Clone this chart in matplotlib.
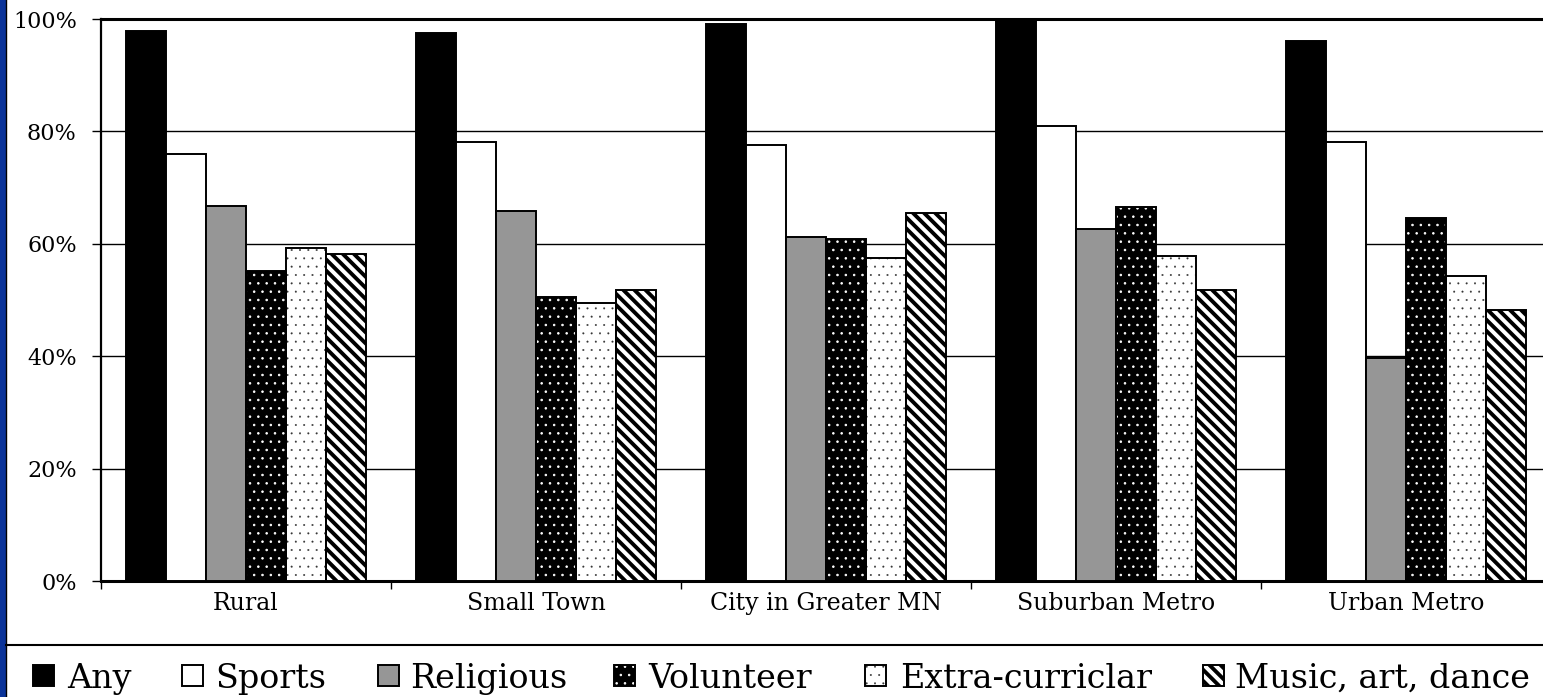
import matplotlib
matplotlib.use("Agg")
import matplotlib.pyplot as plt
import numpy as np
from matplotlib.patches import Rectangle
from matplotlib.lines import Line2D

categories = ["Rural", "Small Town", "City in Greater MN", "Suburban Metro", "Urban Metro"]
series_names = ["Any", "Sports", "Religious", "Volunteer", "Extra-curriclar", "Music, art, dance"]
any_vals = [97.8, 97.5, 99.1, 99.6, 96.1]
sports_vals = [75.9, 78.2, 77.5, 80.9, 78.2]
religious_vals = [66.8, 65.8, 61.2, 62.7, 39.6]
volunteer_vals = [55.2, 50.6, 60.8, 66.5, 64.6]
extra_vals = [59.3, 49.4, 57.4, 57.8, 54.3]
music_vals = [58.2, 51.7, 65.4, 51.7, 48.3]
y_ticks = [0, 20, 40, 60, 80, 100]
y_tick_labels = ["0%", "20%", "40%", "60%", "80%", "100%"]

series = [any_vals, sports_vals, religious_vals, volunteer_vals, extra_vals, music_vals]
# (face, hatch, hatch colour, hatch linewidth)
styles = [
    ("black", None, "black", 1.0),
    ("white", None, "black", 1.0),
    ("#969696", None, "black", 1.0),
    ("black", "..", "white", 0.6),
    ("white", "..", "#333333", 0.2),
    ("white", "\\\\\\", "black", 2.8),
]

plt.rcParams["font.family"] = ["DejaVu Serif"]
W, H = 1543, 697
fig = plt.figure(figsize=(W / 100, H / 100), dpi=100)
fig.patch.set_facecolor("white")

ax = fig.add_axes([101 / W, (H - 581) / H, (1551 - 101) / W, (581 - 19) / H])
ax.set_xlim(-0.5, 4.5)
ax.set_ylim(0, 100)

x = np.arange(len(categories))
bw = 40 / 290
for j, (vals, (fc, hatch, hc, hlw)) in enumerate(zip(series, styles)):
    pos = x + (j - 3) * bw
    with plt.rc_context({"hatch.linewidth": hlw}):
        if hatch:
            ax.bar(pos, vals, width=bw, align="edge", color=fc, edgecolor=hc,
                   hatch=hatch, linewidth=0, zorder=3)
        ax.bar(pos, vals, width=bw, align="edge",
               facecolor=(fc if not hatch else "none"), edgecolor="black",
               linewidth=1.4, zorder=4, label=series_names[j])

# grid
for yv in y_ticks[1:-1]:
    ax.axhline(yv, color="black", linewidth=1.0, zorder=1)

ax.set_yticks(y_ticks)
ax.set_yticklabels(y_tick_labels, fontsize=16)
ax.tick_params(axis="y", direction="out", length=6.5, width=1, pad=11, colors="black")

ax.set_xticks(x)
ax.set_xticklabels(categories, fontsize=17)
ax.tick_params(axis="x", which="major", length=0, pad=8)
ax.set_xticks(np.arange(-0.5, 5.0, 1.0), minor=True)
ax.tick_params(axis="x", which="minor", direction="out", length=6, width=1)

for s in ["left", "top", "bottom", "right"]:
    ax.spines[s].set_color("black")
    ax.spines[s].set_linewidth(1.6)
ax.spines["top"].set_linewidth(2.2)
ax.spines["bottom"].set_linewidth(2.2)

# left blue strip and frame lines
fig.add_artist(Rectangle((0, 0), 6 / W, 1, transform=fig.transFigure,
                         facecolor="#0a3399", edgecolor="none", zorder=5))
fig.add_artist(Line2D([6.5 / W, 6.5 / W], [0, 1], transform=fig.transFigure,
                      color="black", linewidth=1.0, zorder=6))
fig.add_artist(Line2D([6 / W, 1], [(H - 645) / H] * 2, transform=fig.transFigure,
                      color="black", linewidth=1.5, zorder=6))

# legend (manually placed)
sq_left = [33, 182, 378, 614, 865, 1203]
txt_left = [67, 215, 410, 648, 900, 1235]
sq = 21
sq_top = 665
for j, name in enumerate(series_names):
    fc, hatch, hc, hlw = styles[j]
    x0 = sq_left[j] / W
    y0 = (H - sq_top - sq) / H
    wd, ht = sq / W, sq / H
    with plt.rc_context({"hatch.linewidth": hlw}):
        if hatch:
            fig.add_artist(Rectangle((x0, y0), wd, ht, transform=fig.transFigure,
                                     facecolor=fc, edgecolor=hc, hatch=hatch,
                                     linewidth=0, zorder=7))
        fig.add_artist(Rectangle((x0, y0), wd, ht, transform=fig.transFigure,
                                 facecolor=(fc if not hatch else "none"),
                                 edgecolor="black", linewidth=1.4, zorder=8))
    fig.text(txt_left[j] / W, (H - 688) / H, name, fontsize=24,
             ha="left", va="baseline", color="black")

fig.savefig("out.png", dpi=100, facecolor="white")
